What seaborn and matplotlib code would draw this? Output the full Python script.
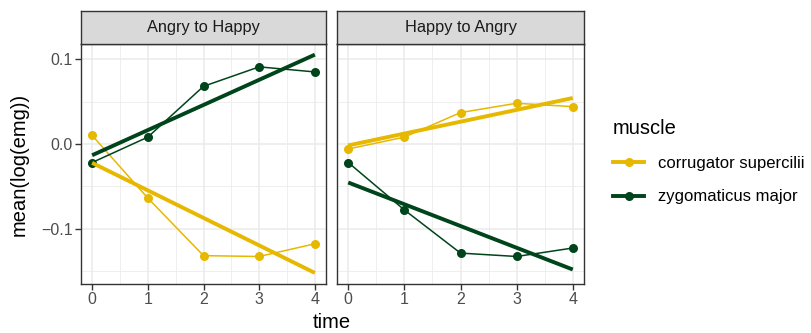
import numpy as np
import pandas as pd
import matplotlib
matplotlib.use("Agg")
import matplotlib.pyplot as plt
import seaborn as sns
from matplotlib.lines import Line2D
from matplotlib.ticker import MultipleLocator

# ---- data ----
conditions = ["Angry to Happy", "Happy to Angry"]
muscles = ["corrugator supercilii", "zygomaticus major"]
time = [0, 1, 2, 3, 4]
ah_corrugator = [0.010, -0.064, -0.132, -0.133, -0.118]
ah_zygomaticus = [-0.022, 0.008, 0.068, 0.091, 0.085]
ha_corrugator = [-0.006, 0.008, 0.037, 0.048, 0.044]
ha_zygomaticus = [-0.022, -0.078, -0.129, -0.133, -0.123]
colors = ["#E7B800", "#00441B"]

rows = []
for cond, series in zip(conditions, [(ah_corrugator, ah_zygomaticus), (ha_corrugator, ha_zygomaticus)]):
    for m, vals in zip(muscles, series):
        for t, v in zip(time, vals):
            rows.append({"condition": cond, "muscle": m, "time": t, "emg": v})
df = pd.DataFrame(rows)
palette = dict(zip(muscles, colors))

plt.rcParams['font.family'] = ['Liberation Sans', 'DejaVu Sans']

W, H = 811, 333
fig = plt.figure(figsize=(W / 100, H / 100), dpi=100)

def fx(px):
    return px / W

def fy(py):
    return 1 - py / H

panels = [(81, 326), (337, 584)]
ptop, pbot, stop = 44, 284, 11
ylim = (-0.1655, 0.118)
xlim = (-0.2, 4.2)

for i, (cond, (x0, x1)) in enumerate(zip(conditions, panels)):
    ax = fig.add_axes([fx(x0), fy(pbot), fx(x1 - x0), (pbot - ptop) / H])
    sub = df[df["condition"] == cond]
    ax.set_xlim(*xlim)
    ax.set_ylim(*ylim)
    ax.set_facecolor("white")
    ax.xaxis.set_major_locator(MultipleLocator(1))
    ax.xaxis.set_minor_locator(MultipleLocator(0.5))
    ax.yaxis.set_major_locator(MultipleLocator(0.1))
    ax.yaxis.set_minor_locator(MultipleLocator(0.05))
    ax.grid(which="major", color="#EBEBEB", lw=1.1, zorder=0)
    ax.grid(which="minor", color="#EBEBEB", lw=0.55, zorder=0)
    ax.set_axisbelow(True)
    sns.lineplot(data=sub, x="time", y="emg", hue="muscle", palette=palette,
                 hue_order=muscles, marker="o", markersize=6.5, markeredgewidth=0,
                 lw=1.1, ax=ax, legend=False, zorder=3)
    for m in muscles:
        s = sub[sub["muscle"] == m]
        sns.regplot(data=s, x="time", y="emg", ci=None, scatter=False, truncate=True,
                    color=palette[m], line_kws=dict(lw=2.8, zorder=4,
                                                    solid_capstyle="butt"), ax=ax)
    ax.set_xlim(*xlim)
    ax.set_ylim(*ylim)
    for sp in ax.spines.values():
        sp.set_color("#333333")
        sp.set_linewidth(1.0)
    ax.tick_params(which="major", length=4, width=1.0, color="#333333",
                   labelcolor="#4D4D4D", labelsize=11.5, pad=2)
    ax.tick_params(which="minor", length=0)
    ax.set_xlabel("")
    ax.set_ylabel("")
    ax.set_xticks(time)
    ax.set_xticklabels([str(t) for t in time])
    if i == 0:
        ax.set_yticks([-0.1, 0.0, 0.1])
        ax.set_yticklabels(["\u22120.1", "0.0", "0.1"])
    else:
        ax.tick_params(axis="y", which="both", left=False, labelleft=False)
    # strip
    sax = fig.add_axes([fx(x0), fy(ptop), fx(x1 - x0), (ptop - stop) / H])
    sax.set_facecolor("#D9D9D9")
    sax.set_xticks([])
    sax.set_yticks([])
    for sp in sax.spines.values():
        sp.set_color("#333333")
        sp.set_linewidth(1.0)
    sax.text(0.5, 0.5, cond, ha="center", va="center", fontsize=11.8,
             color="#1A1A1A", transform=sax.transAxes)

fig.text(fx(332), fy(323), "time", ha="center", va="center", fontsize=14.5, color="black")
fig.text(fx(19), fy((ptop + pbot) / 2), "mean(log(emg))", ha="center", va="center",
         rotation=90, fontsize=14.5, color="black")

handles = [Line2D([0], [0], color=c, lw=2.8, marker="o", markersize=6.5,
                  markeredgewidth=0) for c in colors]
leg = fig.legend(handles, muscles, title="muscle", loc="upper left",
                 bbox_to_anchor=(fx(606), fy(112)), frameon=False, fontsize=12,
                 title_fontsize=14.5, handlelength=1.9, handletextpad=0.85,
                 labelspacing=1.1, alignment="left", borderaxespad=0)

fig.savefig("out.png", dpi=100, facecolor="white")
